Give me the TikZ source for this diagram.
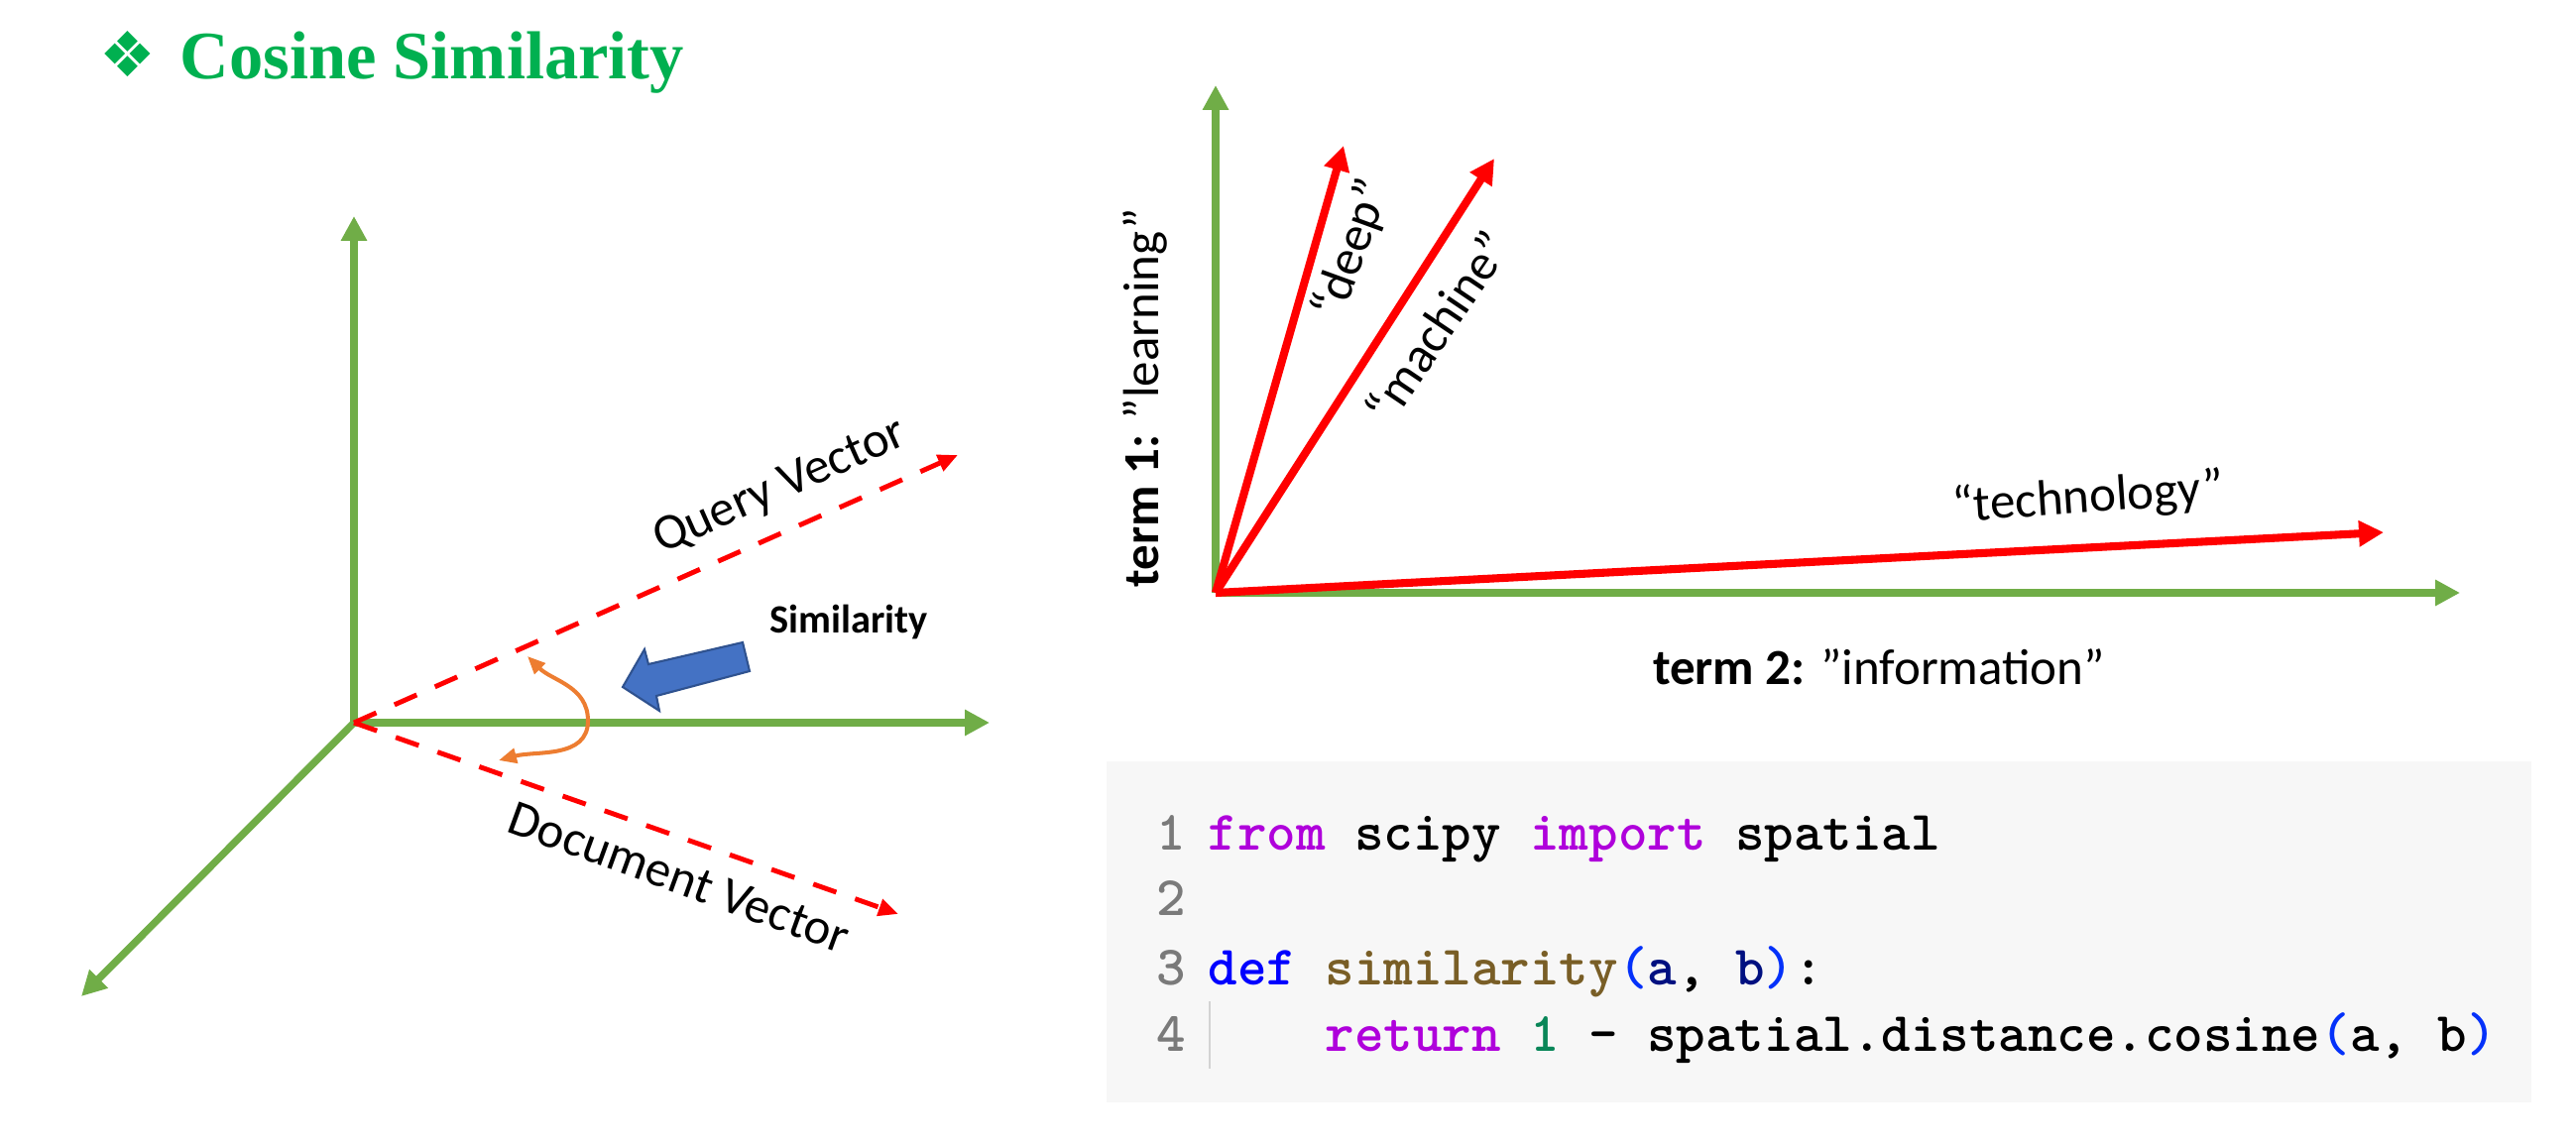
\documentclass[tikz,border=0pt]{standalone}
\usepackage{fontspec}
\setmainfont{Carlito}
\newfontfamily\ttlfont{Liberation Serif}
\newfontfamily\dingfont{DejaVu Sans}
\usetikzlibrary{arrows.meta}
\definecolor{axisgreen}{HTML}{70AD47}
\definecolor{titlegreen}{HTML}{00B050}
\definecolor{arcorange}{HTML}{ED7D31}
\definecolor{simblue}{HTML}{4472C4}
\definecolor{simborder}{HTML}{2F528F}
\definecolor{codebg}{HTML}{F7F7F7}
\definecolor{kwpurple}{HTML}{AF00DB}
\definecolor{defblue}{HTML}{0000FF}
\definecolor{fnbrown}{HTML}{795E26}
\definecolor{parnavy}{HTML}{001080}
\definecolor{numgreen}{HTML}{098658}
\definecolor{brblue}{HTML}{0431FA}
\definecolor{linegray}{HTML}{7A7A7A}
\definecolor{guidegray}{HTML}{D3D3D3}
\tikzset{
  axis/.style={axisgreen, line width=2.1pt, -{Triangle[length=2.5mm,width=2.5mm]}},
  vec/.style={red, line width=2.3pt, -{Triangle[length=2.5mm,width=2.5mm]}},
  dvec/.style={red, line width=1.4pt, dash pattern=on 7pt off 5.7pt, -{Triangle[length=2mm,width=1.7mm]}},
  simarc/.style={arcorange, line width=1.15pt, {Triangle[length=1.8mm,width=1.5mm]}-{Triangle[length=1.8mm,width=1.5mm]}},
  lbl/.style={font=\fontsize{14.5}{17}\selectfont, inner sep=0pt},
  codeline/.style={font=\fontsize{16}{19}\ttfamily\bfseries, anchor=base west, inner sep=0pt},
  lineno/.style={codeline, anchor=base east, text=linegray},
}
\begin{document}
\begin{tikzpicture}
\useasboundingbox (0,0) rectangle (25.98,11.54);
%titolo
\node[font=\dingfont\fontsize{18}{20}\selectfont, text=titlegreen, inner sep=0pt] (bullet) at (1.29,10.99) {❖};
\node[font=\ttlfont\bfseries\fontsize{19.5}{22}\selectfont, text=titlegreen, anchor=base west, inner sep=0pt] (title) at (1.81,10.74) {Cosine Similarity};

%punti del grafico 3d
\coordinate (o) at (3.57,4.25);
\coordinate (ytop) at (3.57,9.36);
\coordinate (xend) at (9.98,4.25);
\coordinate (zend) at (0.82,1.49);
\coordinate (qend) at (9.66,6.95);
\coordinate (dend) at (9.06,2.32);
%assi
\draw[axis] (o) -- (ytop);
\draw[axis] (o) -- (xend);
\draw[axis] (o) -- (zend);
%query e document
\draw[dvec] (o) -- (qend);
\draw[dvec] (o) -- (dend);
\node[lbl, rotate=24] (qlabel) at (7.87,6.62) {Query Vector};
\node[lbl, rotate=-20] (dlabel) at (6.85,2.69) {Document Vector};
%angolo
\coordinate (arcA) at (5.32,4.92);
\coordinate (arcM) at (5.93,4.27);
\coordinate (arcB) at (5.03,3.87);
\draw[simarc] (arcA) to[out=-45,in=90] (arcM) to[out=-90,in=15] (arcB);
%freccia blu
\draw[fill=simblue, draw=simborder, line width=0.6pt] (6.28,4.61) -- (6.50,4.99) -- (6.54,4.84) -- (7.49,5.06) -- (7.56,4.77) -- (6.62,4.52) -- (6.65,4.37) -- cycle;
\node[font=\fontsize{11.5}{14}\selectfont\bfseries, inner sep=0pt] (simlabel) at (8.56,5.27) {Similarity};

%punti del grafico 2d
\coordinate (o2) at (12.26,5.56);
\coordinate (y2) at (12.26,10.68);
\coordinate (x2) at (24.81,5.56);
\coordinate (deep) at (13.55,10.07);
\coordinate (mach) at (15.07,9.94);
\coordinate (tech) at (24.04,6.17);
%assi
\draw[axis] (o2) -- (y2);
\draw[axis] (o2) -- (x2);
\node[lbl, rotate=90, anchor=base] (t1lbl) at (11.68,7.53) {\textbf{term 1:} ”learning”};
\node[lbl, anchor=base] (t2lbl) at (18.95,4.64) {\textbf{term 2:} ”information”};
%vettori
\draw[vec] (o2) -- (deep);
\draw[vec] (o2) -- (mach);
\draw[vec] (o2) -- (tech);
\node[lbl, rotate=70] (deeplbl) at (13.64,9.02) {“deep”};
\node[lbl, rotate=56] (machlbl) at (14.49,8.24) {“machine”};
\node[lbl, rotate=4] (techlbl) at (21.06,6.51) {“technology”};

%codice
\fill[codebg] (11.16,0.42) rectangle (25.53,3.86);
\foreach \n/\y in {1/2.97,2/2.31,3/1.61,4/0.94}
  \node[lineno] (n\n) at (11.97,\y) {\n};
\draw[guidegray, line width=0.6pt] (12.20,1.44) -- (12.20,0.76);
\node[codeline] (c1) at (12.18,2.97) {\textcolor{kwpurple}{from} scipy \textcolor{kwpurple}{import} spatial};
\node[codeline] (c3) at (12.18,1.61) {\textcolor{defblue}{def} \textcolor{fnbrown}{similarity}\textcolor{brblue}{(}\textcolor{parnavy}{a}, \textcolor{parnavy}{b}\textcolor{brblue}{)}:};
\node[codeline] (c4) at (13.36,0.94) {\textcolor{kwpurple}{return} \textcolor{numgreen}{1} - spatial.distance.cosine\textcolor{brblue}{(}a, b\textcolor{brblue}{)}};
\end{tikzpicture}
\end{document}
